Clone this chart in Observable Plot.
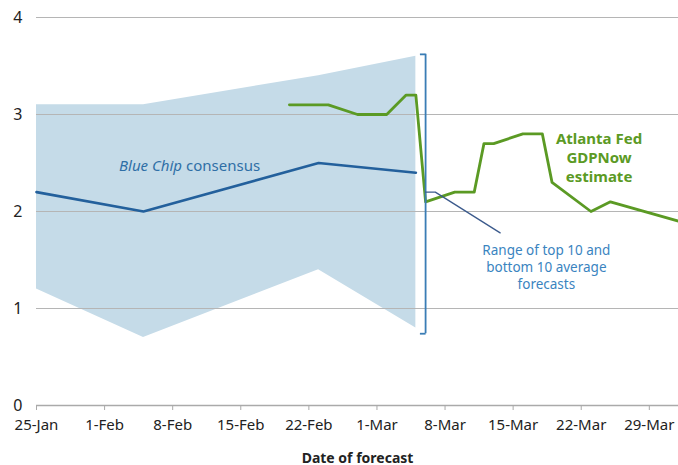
<!DOCTYPE html>
<html>
<head>
<meta charset="utf-8">
<script src="https://cdn.jsdelivr.net/npm/d3@7"></script>
<script src="https://cdn.jsdelivr.net/npm/@observablehq/plot@0.6"></script>
<style>
  html, body { margin: 0; padding: 0; background: #fff; }
  svg { display: block; }
</style>
</head>
<body>
<div id="chart"></div>
<script>
// ---- data ----
const bandDates = ["2023-01-25", "2023-02-05", "2023-02-23", "2023-03-05"];
const bandHigh = [3.1, 3.1, 3.4, 3.6];
const bandLow = [1.2, 0.7, 1.4, 0.8];
const consensusValues = [2.2, 2.0, 2.5, 2.4];

const gdpDates = ["2023-02-20", "2023-02-24", "2023-02-27", "2023-03-02", "2023-03-04", "2023-03-05",
  "2023-03-06", "2023-03-09", "2023-03-11", "2023-03-12", "2023-03-13", "2023-03-16", "2023-03-18",
  "2023-03-19", "2023-03-23", "2023-03-25", "2023-04-01"];
const gdpValues = [3.1, 3.1, 3.0, 3.0, 3.2, 3.2, 2.1, 2.2, 2.2, 2.7, 2.7, 2.8, 2.8, 2.3, 2.0, 2.1, 1.9];

const tickDates = ["2023-01-25", "2023-02-01", "2023-02-08", "2023-02-15", "2023-02-22",
  "2023-03-01", "2023-03-08", "2023-03-15", "2023-03-22", "2023-03-29"];
const yTicks = [0, 1, 2, 3, 4];
const xDomain = ["2023-01-25", "2023-04-01"];

// annotations
const bracketDate = "2023-03-06";
const bracketRange = [0.74, 3.62];
const bracketHookStart = "2023-03-05T10:00";
const pointerDates = ["2023-03-06", "2023-03-07", "2023-03-13T16:00"];
const pointerValues = [2.2, 2.2, 1.78];
const rangeLabel = {date: "2023-03-18T10:00", value: 1.43, text: "Range of top 10 and\nbottom 10 average\nforecasts"};
const gdpLabel = {date: "2023-03-23T20:00", value: 2.56, text: "Atlanta Fed\nGDPNow\nestimate"};
const blueChipLabel = {date: "2023-02-09T04:00", value: 2.47};

const P = d3.utcParse("%Y-%m-%d");
const PT = d3.utcParse("%Y-%m-%dT%H:%M");
const pd = s => (s.length > 10 ? PT(s) : P(s));

const band = bandDates.map((d, i) => ({date: pd(d), lo: bandLow[i], hi: bandHigh[i], mid: consensusValues[i]}));
const gdp = gdpDates.map((d, i) => ({date: pd(d), value: gdpValues[i]}));
const pointer = pointerDates.map((d, i) => ({date: pd(d), value: pointerValues[i]}));
const hooks = bracketRange.map(v => ({x1: pd(bracketHookStart), x2: pd(bracketDate), y: v}));

const chart = Plot.plot({
  width: 678,
  height: 465,
  marginLeft: 36,
  marginRight: 0,
  marginTop: 17,
  marginBottom: 60,
  style: {fontFamily: "'Noto Sans', sans-serif", fontSize: "14px", color: "#222", background: "#fff"},
  x: {type: "utc", domain: xDomain.map(pd)},
  y: {domain: [0, 4]},
  marks: [
    Plot.areaY(band, {x: "date", y1: "lo", y2: "hi", fill: "#c5dbe8", fillOpacity: 1}),
    Plot.gridY({ticks: [1, 2, 3, 4], stroke: "#b5b5b5", strokeOpacity: 1, strokeWidth: 1.2}),
    Plot.ruleY([0], {stroke: "#aaaaaa", strokeWidth: 1.5}),
    Plot.axisY({ticks: yTicks, tickFormat: d3.format("d"), tickSize: 0, tickPadding: 14, fontSize: 16, fill: "#222", label: null}),
    Plot.axisX({ticks: tickDates.map(pd), tickFormat: d3.utcFormat("%-d-%b"), tickSize: 5, tickPadding: 9,
      stroke: "#aaaaaa", fill: "#222", fontSize: 15, label: null}),
    Plot.text(["Date of forecast"], {frameAnchor: "bottom", dy: 57, fontWeight: "bold", fontSize: 14, fill: "#222"}),
    Plot.line(band, {x: "date", y: "mid", stroke: "#23609c", strokeWidth: 2.6}),
    Plot.line(gdp, {x: "date", y: "value", stroke: "#5b9a24", strokeWidth: 2.8, clip: true}),
    // bracket
    Plot.ruleX([pd(bracketDate)], {y1: bracketRange[0], y2: bracketRange[1], stroke: "#3a7db5", strokeWidth: 1.8}),
    Plot.link(hooks, {x1: "x1", x2: "x2", y1: "y", y2: "y", stroke: "#3a7db5", strokeWidth: 1.8}),
    // pointer
    Plot.line(pointer, {x: "date", y: "value", stroke: "#3b5a8c", strokeWidth: 1.3}),
    // labels
    Plot.text([blueChipLabel], {x: d => pd(d.date), y: "value", text: () => "Blue Chip", textAnchor: "end", dx: -2,
      fontStyle: "italic", fill: "#2f6fa6", fontSize: 15}),
    Plot.text([blueChipLabel], {x: d => pd(d.date), y: "value", text: () => "consensus", textAnchor: "start", dx: 2,
      fill: "#2f6fa6", fontSize: 15}),
    Plot.text([rangeLabel], {x: d => pd(d.date), y: "value", text: "text", fill: "#3a84bf", fontSize: 13.5, lineHeight: 1.25}),
    Plot.text([gdpLabel], {x: d => pd(d.date), y: "value", text: "text", fill: "#5b9a24", fontSize: 15, fontWeight: "bold", lineHeight: 1.25})
  ]
});
document.getElementById("chart").appendChild(chart);
</script>
</body>
</html>
